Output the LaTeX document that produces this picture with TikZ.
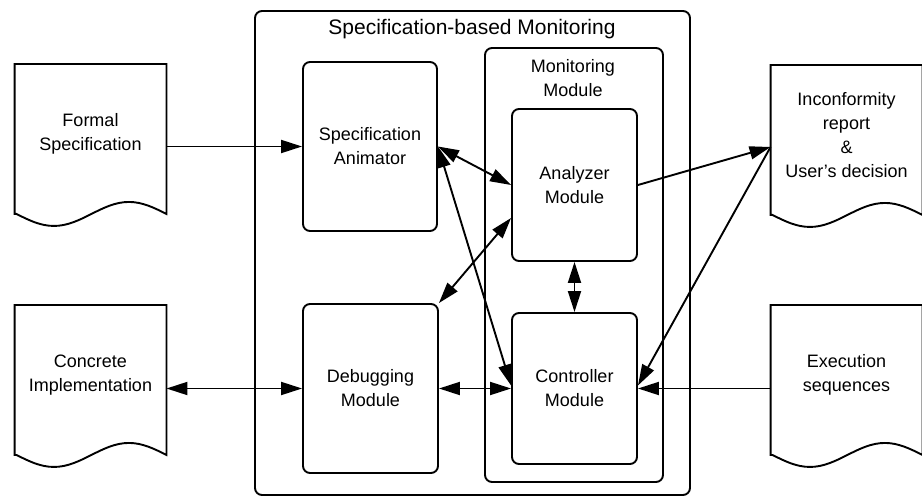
\documentclass[tikz,border=0pt]{standalone}
\usepackage{fontspec}
\setmainfont{Liberation Sans}
\usepackage{tikz}
\usetikzlibrary{
	arrows.meta,
	calc,
	positioning
}

\begin{document}
\begin{tikzpicture}[x=1pt, y=-1pt, line width=1.9pt,
		font=\fontsize{18}{24}\selectfont,
		box/.style={draw, rounded corners=7pt, align=center, inner sep=0pt},
		doc/.style={align=center, minimum width=150pt, minimum height=138pt, inner sep=0pt},
		tip/.style={-{Triangle[length=21pt,width=13pt]}},
		both/.style={{Triangle[length=21pt,width=13pt]}-{Triangle[length=21pt,width=13pt]}}]
		\useasboundingbox (0,0) rectangle (922,497);
		% frames
		\node[box, minimum width=435pt, minimum height=484pt] (sbm) at (472.5,253) {};
		\node[font=\fontsize{21}{24}\selectfont] (sbmtitle) at (472,29) {Specification-based Monitoring};
		\node[box, minimum width=178pt, minimum height=434pt] (mon) at (574,265) {};
		\node[align=center] (montitle) at (573,78) {Monitoring\\Module};
		% modules
		\node[box, minimum width=134pt, minimum height=169pt] (anim) at (370,146.5) {Specification\\Animator};
		\node[box, minimum width=135pt, minimum height=169pt] (debug) at (370.5,388.5) {Debugging\\Module};
		\node[box, minimum width=125pt, minimum height=152pt] (ana) at (574.5,185) {Analyzer\\Module};
		\node[box, minimum width=125pt, minimum height=151pt] (ctrl) at (574.5,388.5) {Controller\\Module};
		% documents
		\node[doc] (formal) at (90.5,134) {Formal\\Specification};
		\node[doc] (concrete) at (90.5,375) {Concrete\\Implementation};
		\node[doc] (report) at (846.5,135) {Inconformity\\report\\\&\\User's decision};
		\node[doc] (exec) at (846.5,375) {Execution\\sequences};
		\foreach \d in {formal,concrete,report,exec}
			\draw ([yshift=-10pt]\d.south west) -- (\d.north west) -- (\d.north east)
				-- ([yshift=-10pt]\d.south east) sin ++(-37.5,-12) cos ++(-37.5,12)
				sin ++(-37.5,12) cos ++(-37.5,-12) -- cycle;
		\coordinate (repin) at ([yshift=-12pt]report.west);
		% connectors
		\draw[tip] (formal.east |- anim.west) -- (anim.west);
		\draw[both] (concrete.east |- debug.west) -- (debug.west);
		\draw[both] (debug.east) -- (ctrl.west);
		\draw[both] (anim.east) -- (ana.west);
		\draw[both] (anim.east) -- ([yshift=3pt]ctrl.west);
		\draw[both] (debug.north east) -- ([yshift=-33pt]ana.west);
		\draw[both] (ana.south) -- (ctrl.north);
		\draw[tip] (ana.east) -- (repin);
		\draw[tip] (repin) -- ([yshift=3pt]ctrl.east);
		\draw[tip] (exec.west |- ctrl.east) -- (ctrl.east);
\end{tikzpicture}
\end{document}
